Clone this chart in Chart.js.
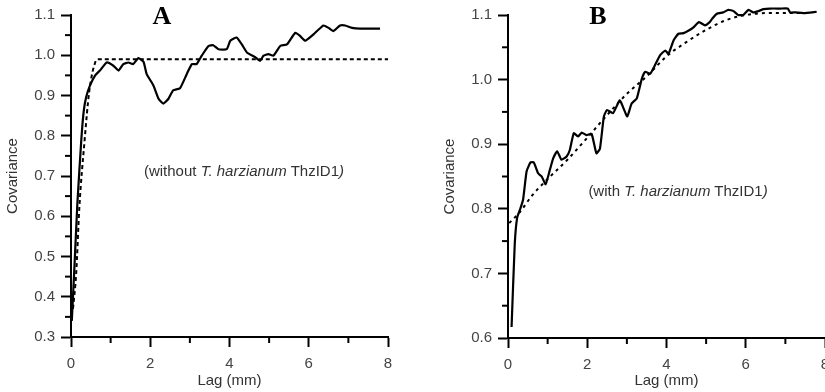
<!DOCTYPE html>
<html>
<head>
<meta charset="utf-8">
<script src="https://cdn.jsdelivr.net/npm/chart.js@4.4.0/dist/chart.umd.min.js"></script>
<style>
  body { margin: 0; overflow: hidden; background: #fff; }
  #wrap { position: relative; width: 825px; height: 392px; overflow: hidden; }
  canvas { position: absolute; top: 0; }
  #grafA { left: 0; }
  #grafB { left: 410px; }
  .letra { position: absolute; font-family: "Liberation Serif", serif; font-weight: bold; font-size: 26px; color: #000; transform: translate(-50%, -50%); }
  .nota { position: absolute; font-family: "Liberation Sans", Arial, sans-serif; font-size: 15px; color: #333; white-space: nowrap; transform: translate(-50%, -50%); }
</style>
</head>
<body>
<div id="wrap">
  <canvas id="grafA" width="410" height="392"></canvas>
  <canvas id="grafB" width="440" height="392"></canvas>
  <div class="letra" style="left:162px; top:16px;">A</div>
  <div class="letra" style="left:598px; top:16px;">B</div>
  <div class="nota" style="left:244px; top:170px;">(without <i>T. harzianum</i> ThzID1<i>)</i></div>
  <div class="nota" style="left:678px; top:190px;">(with <i>T. harzianum</i> ThzID1<i>)</i></div>
</div>
<script>
// Panel A - semivariograma observado (sin ThzID1)
const lagA = [0.02, 0.08, 0.16, 0.26, 0.32, 0.38, 0.48, 0.61, 0.73, 0.90, 1.07, 1.20, 1.32, 1.45, 1.57, 1.70, 1.83, 1.91,
  2.08, 2.21, 2.33, 2.46, 2.58, 2.75, 2.92, 3.05, 3.17, 3.30, 3.47, 3.59, 3.72, 3.93, 4.02, 4.18, 4.31, 4.44, 4.65,
  4.77, 4.86, 4.98, 5.11, 5.28, 5.45, 5.66, 5.78, 5.91, 6.12, 6.37, 6.50, 6.62, 6.79, 6.92, 7.09, 7.30, 7.80];
const covA = [0.34, 0.46, 0.63, 0.79, 0.86, 0.895, 0.925, 0.95, 0.962, 0.982, 0.974, 0.962, 0.978, 0.982, 0.978, 0.993, 0.984, 0.953,
  0.925, 0.892, 0.880, 0.892, 0.913, 0.918, 0.953, 0.978, 0.978, 0.999, 1.023, 1.025, 1.015, 1.015, 1.036, 1.044, 1.027, 1.007, 0.995,
  0.986, 0.999, 1.003, 0.999, 1.023, 1.027, 1.056, 1.048, 1.036, 1.052, 1.074, 1.068, 1.060, 1.074, 1.074, 1.068, 1.066, 1.066];
// Panel A - modelo ajustado
const lagAFit = [0.05, 0.13, 0.21, 0.34, 0.46, 0.61, 0.68, 8.0];
const covAFit = [0.37, 0.457, 0.621, 0.785, 0.91, 0.982, 0.99, 0.99];

// Panel B - semivariograma observado (con ThzID1)
const lagB = [0.09, 0.17, 0.23, 0.31, 0.38, 0.47, 0.57, 0.65, 0.76, 0.85, 0.95, 1.06, 1.14, 1.24, 1.35, 1.48, 1.56, 1.66, 1.77,
  1.86, 1.98, 2.11, 2.23, 2.32, 2.42, 2.50, 2.65, 2.82, 2.92, 3.01, 3.12, 3.25, 3.38, 3.46, 3.59, 3.69, 3.84, 3.97, 4.05,
  4.18, 4.30, 4.43, 4.56, 4.68, 4.82, 4.97, 5.09, 5.15, 5.27, 5.43, 5.56, 5.69, 5.81, 5.94, 6.07, 6.19, 6.32, 6.45, 6.61,
  6.87, 7.06, 7.12, 7.25, 7.46, 7.79];
const covB = [0.617, 0.745, 0.786, 0.800, 0.814, 0.858, 0.872, 0.872, 0.855, 0.850, 0.838, 0.861, 0.878, 0.889, 0.876, 0.881, 0.891, 0.917, 0.912,
  0.918, 0.914, 0.916, 0.886, 0.893, 0.943, 0.953, 0.948, 0.968, 0.955, 0.943, 0.963, 0.971, 1.002, 1.012, 1.009, 1.020, 1.038, 1.045, 1.040,
  1.061, 1.071, 1.072, 1.076, 1.081, 1.089, 1.084, 1.089, 1.094, 1.102, 1.104, 1.108, 1.106, 1.100, 1.100, 1.108, 1.104, 1.106, 1.109, 1.110,
  1.110, 1.110, 1.104, 1.104, 1.103, 1.105];
// Panel B - modelo ajustado
const lagBFit = [0.03, 0.3, 0.6, 0.95, 1.5, 2.0, 2.5, 3.0, 3.5, 4.0, 4.5, 5.0, 5.5, 6.0, 6.5, 7.0, 7.6];
const covBFit = [0.778, 0.795, 0.82, 0.843, 0.876, 0.91, 0.945, 0.978, 1.005, 1.036, 1.058, 1.077, 1.092, 1.100, 1.103, 1.103, 1.103];

const xTicks = [0, 2, 4, 6, 8];

function puntos(xs, ys) {
  return xs.map((x, i) => ({ x: x, y: ys[i] }));
}

function esMayor(v, paso) {
  const r = v / paso;
  return Math.abs(r - Math.round(r)) < 1e-6;
}

const fuente = { family: '"Liberation Sans", Arial, sans-serif', size: 15 };

// Ticks menores (mas cortos) en ambos ejes
const ticksMenores = {
  id: 'ticksMenores',
  afterDraw(chart) {
    const ctx = chart.ctx;
    const sx = chart.scales.x, sy = chart.scales.y;
    ctx.save();
    ctx.strokeStyle = '#000';
    ctx.lineWidth = 2;
    sx.ticks.forEach(t => {
      if (!xTicks.includes(t.value)) {
        const px = sx.getPixelForValue(t.value);
        ctx.beginPath(); ctx.moveTo(px, chart.chartArea.bottom); ctx.lineTo(px, chart.chartArea.bottom + 6); ctx.stroke();
      }
    });
    sy.ticks.forEach(t => {
      if (!esMayor(t.value, 0.1)) {
        const py = sy.getPixelForValue(t.value);
        ctx.beginPath(); ctx.moveTo(chart.chartArea.left, py); ctx.lineTo(chart.chartArea.left - 6, py); ctx.stroke();
      }
    });
    ctx.restore();
  }
};

function crearGrafico(id, obs, fit, dash, yMin, pad) {
  return new Chart(document.getElementById(id), {
    type: 'line',
    data: {
      datasets: [{
        data: obs,
        borderColor: '#000',
        borderWidth: 2.2,
        pointRadius: 0,
        tension: 0.15,
        clip: false
      }, {
        data: fit,
        borderColor: '#000',
        borderWidth: 2,
        borderDash: dash,
        pointRadius: 0,
        cubicInterpolationMode: 'monotone',
        clip: false
      }]
    },
    options: {
      responsive: false,
      animation: false,
      layout: { padding: pad },
      plugins: { legend: { display: false }, tooltip: { enabled: false } },
      scales: {
        x: {
          type: 'linear',
          min: 0,
          max: 8,
          afterFit: s => { s.height = 392 - 337 - pad.top + 12; },
          border: { display: true, color: '#000', width: 2 },
          grid: {
            drawOnChartArea: false,
            tickLength: 10,
            tickWidth: 2,
            tickColor: c => xTicks.includes(c.tick.value) ? '#000' : 'rgba(0,0,0,0)'
          },
          ticks: {
            stepSize: 1,
            autoSkip: false,
            maxRotation: 0,
            padding: 8,
            color: '#444',
            font: fuente,
            callback: v => xTicks.includes(v) ? String(v) : ''
          },
          title: { display: true, text: 'Lag (mm)', color: '#333', font: fuente, padding: { top: 0, bottom: 2 } }
        },
        y: {
          min: yMin,
          max: 1.1,
          afterFit: s => { s.width = 71; },
          border: { display: true, color: '#000', width: 2 },
          grid: {
            drawOnChartArea: false,
            tickLength: 10,
            tickWidth: 2,
            tickColor: c => esMayor(c.tick.value, 0.1) ? '#000' : 'rgba(0,0,0,0)'
          },
          ticks: {
            stepSize: 0.05,
            autoSkip: false,
            padding: 6,
            color: '#444',
            font: fuente,
            callback: v => esMayor(v, 0.1) ? v.toFixed(1) : ''
          },
          title: { display: true, text: 'Covariance', color: '#333', font: fuente, padding: { top: 4, bottom: 0 } }
        }
      }
    },
    plugins: [ticksMenores]
  });
}

crearGrafico('grafA', puntos(lagA, covA), puntos(lagAFit, covAFit), [4, 3], 0.3,
  { left: 0, right: 22, top: 12, bottom: 0 });
crearGrafico('grafB', puntos(lagB, covB), puntos(lagBFit, covBFit), [3, 4], 0.6,
  { left: 27, right: 25, top: 13, bottom: 0 });
</script>
</body>
</html>
